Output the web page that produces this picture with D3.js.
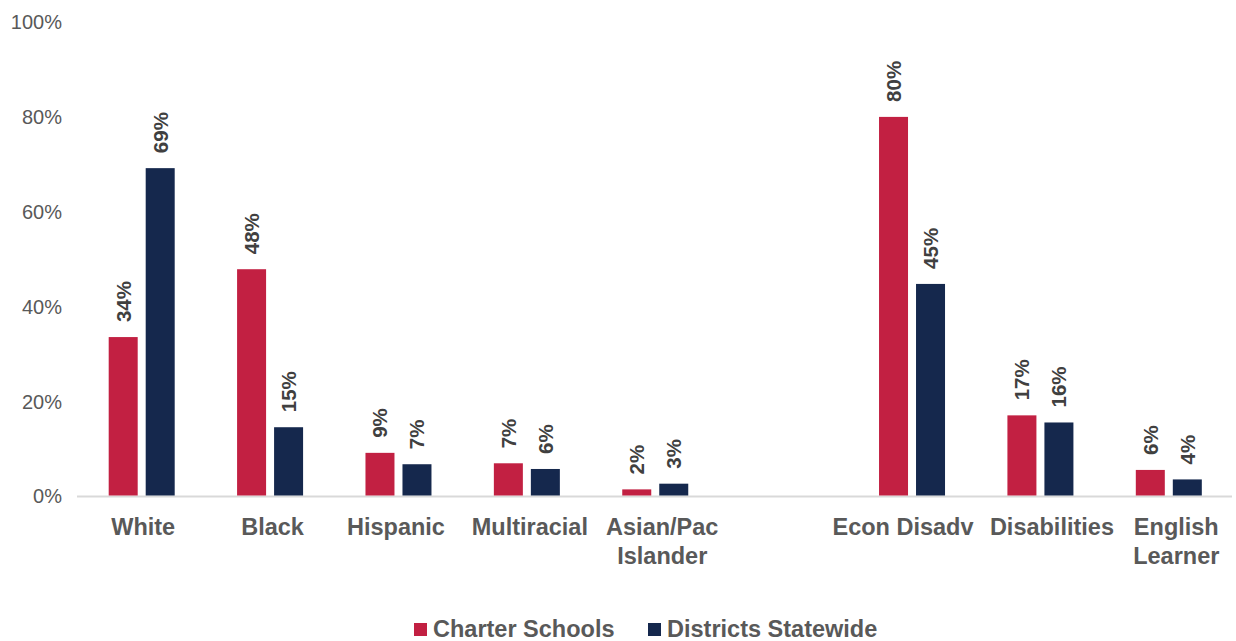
<!DOCTYPE html>
<html>
<head>
<meta charset="utf-8">
<script src="https://cdn.jsdelivr.net/npm/d3@7"></script>
<style>
  html, body { margin: 0; padding: 0; background: #fff; }
  svg { display: block; font-family: "Liberation Sans", Arial, sans-serif; }
</style>
</head>
<body>
<svg id="chart" width="1236" height="641"></svg>
<script>
// Student group categories (an empty slot separates the two blocks)
const categories = ["White", "Black", "Hispanic", "Multiracial", "Asian/Pac Islander", "", "Econ Disadv", "Disabilities", "English Learner"];
const categoryLines = [["White"], ["Black"], ["Hispanic"], ["Multiracial"], ["Asian/Pac", "Islander"], [], ["Econ Disadv"], ["Disabilities"], ["English", "Learner"]];
const seriesNames = ["Charter Schools", "Districts Statewide"];
const charterValues = [33.6, 47.9, 9.2, 7.0, 1.5, null, 80.0, 17.1, 5.6];
const districtValues = [69.2, 14.6, 6.8, 5.8, 2.7, null, 44.8, 15.6, 3.6];
const yTicks = [0, 20, 40, 60, 80, 100];
const colors = ["#C22042", "#15284D"];

const svg = d3.select("#chart");
const width = 1236, height = 641;
const margin = { left: 77.5, right: 3, top: 22, bottom: 145 };

const x = d3.scaleBand()
  .domain(categories.map((c, i) => i))
  .range([margin.left, width - margin.right])
  .paddingInner(0)
  .paddingOuter(0);

const y = d3.scaleLinear()
  .domain([0, 100])
  .range([height - margin.bottom + 0.5, margin.top]);

const barW = 29, gap = 8;
const sub = d3.scaleOrdinal().domain([0, 1]).range([-(gap / 2) - barW, gap / 2]);

// Y axis labels (no axis line or ticks)
const yAxis = d3.axisLeft(y).tickValues(yTicks).tickFormat(d => d + "%").tickSize(0).tickPadding(0);
const yg = svg.append("g").attr("transform", `translate(${62},0)`).call(yAxis);
yg.select(".domain").remove();
yg.selectAll("text").attr("fill", "#595959").style("font-size", "20px").style("font-family", "Liberation Sans, Arial, sans-serif");

// Baseline
svg.append("line")
  .attr("x1", 77).attr("x2", width - 4)
  .attr("y1", y(0)).attr("y2", y(0))
  .attr("stroke", "#D9D9D9").attr("stroke-width", 2);

const series = [charterValues, districtValues];
series.forEach((vals, s) => {
  const g = svg.append("g");
  vals.forEach((v, i) => {
    if (v === null) return;
    const cx = x(i) + x.bandwidth() / 2 + sub(s);
    g.append("rect")
      .attr("x", cx).attr("y", y(v))
      .attr("width", barW).attr("height", y(0) - y(v) - 1)
      .attr("fill", colors[s]);
    const lx = cx + barW / 2, ly = y(v) - 15;
    g.append("text")
      .attr("transform", `translate(${lx + 7.5},${ly}) rotate(-90)`)
      .attr("fill", "#404040")
      .style("font-size", "20.5px").style("font-weight", "bold")
      .text(Math.round(v) + "%");
  });
});

// Category labels, nudged sideways so neighbouring labels keep clear of each other
const labelNudge = [1.5, 2.5, -2.5, 3, 7, 0, -9, 11.5, 7.5];
categoryLines.forEach((lines, i) => {
  const cx = x(i) + x.bandwidth() / 2 + labelNudge[i];
  const t = svg.append("text")
    .attr("x", cx)
    .attr("y", 535)
    .attr("text-anchor", "middle")
    .attr("fill", "#595959")
    .style("font-size", "23.5px").style("font-weight", "bold");
  lines.forEach((ln, k) => {
    t.append("tspan").attr("x", cx).attr("dy", k === 0 ? 0 : 28.5).text(ln);
  });
});

// Legend
const legend = svg.append("g");
const legendX = [414, 648];
seriesNames.forEach((name, s) => {
  legend.append("rect").attr("x", legendX[s]).attr("y", 623).attr("width", 13).attr("height", 13).attr("fill", colors[s]);
  legend.append("text").attr("x", legendX[s] + 19).attr("y", 637)
    .attr("fill", "#595959").style("font-size", "23.5px").style("font-weight", "bold")
    .text(name);
});
</script>
</body>
</html>
